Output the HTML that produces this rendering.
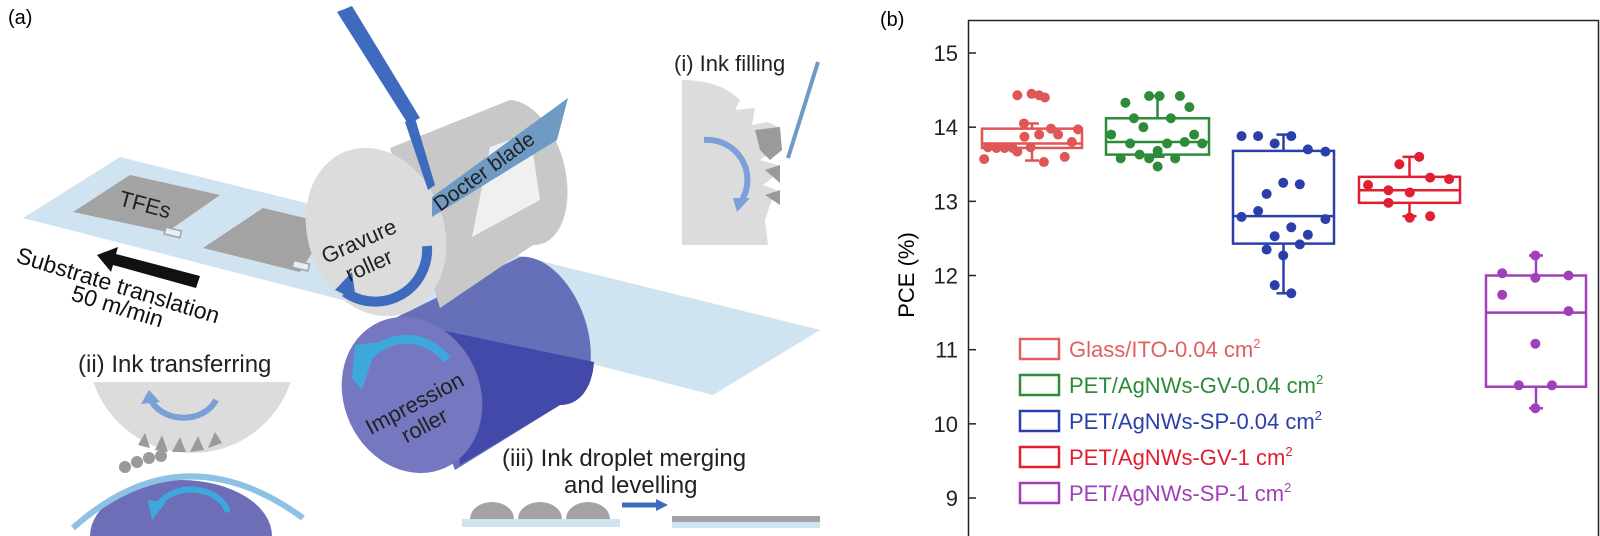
<!DOCTYPE html>
<html><head><meta charset="utf-8"><style>
html,body{margin:0;padding:0;background:#fff}
svg{display:block}
text{font-family:"Liberation Sans",sans-serif}
</style></head><body>
<svg id="s" width="1600" height="536" viewBox="0 0 1600 536" xmlns="http://www.w3.org/2000/svg">
<defs>
<clipPath id="c2"><rect x="60" y="382" width="260" height="154"/></clipPath>
</defs>
<text x="8" y="24" font-size="20">(a)</text>
<polygon points="120,157 820,330 713,395 23,218" fill="#cfe3f1"/>
<polygon points="73,212 130,175 220,195 167,232" fill="#a3a3a3"/>
<rect x="165" y="229" width="16" height="7" fill="#e8eef4" stroke="#a3a3a3" stroke-width="1.5" transform="rotate(13 173 232)"/>
<polygon points="203,248 263,208 330,224 300,272" fill="#a3a3a3"/>
<rect x="293" y="262" width="16" height="7" fill="#e8eef4" stroke="#a3a3a3" stroke-width="1.5" transform="rotate(13 300 265)"/>
<text x="145" y="212" font-size="22" text-anchor="middle" transform="rotate(15 145 205)" fill="#222">TFEs</text>
<polygon points="97,255 118,247 116,254 200,276 196,288 113,265 111,272" fill="#111"/>
<text x="15" y="262" font-size="23" transform="rotate(17 15 262)" fill="#111">Substrate translation</text>
<text x="70" y="300" font-size="23" transform="rotate(17 70 300)" fill="#111">50 m/min</text>
<path d="M395,318 L520,257 A45,75 -20 0 1 560,405 L455,470 Z" fill="#6570b8"/>
<path d="M440,330 L594,362 A45,75 -20 0 1 560,405 L460,465 Z" fill="#4249a8"/>
<ellipse cx="412" cy="395" rx="68" ry="80" transform="rotate(-25 412 395)" fill="#7577c0"/>
<path d="M447,360 A50,50 0 0 0 370,355" fill="none" stroke="#3ea8dc" stroke-width="9"/>
<polygon points="355,345 378,342 362,390 352,378" fill="#3ea8dc"/>
<path d="M390,148 L510,100 A42,72 -15 0 1 533,245 L440,308 Z" fill="#c8c8c8"/>
<polygon points="472,237 540,200 530,133 490,147" fill="#f0f0f0"/>
<ellipse cx="376" cy="232" rx="68" ry="86" transform="rotate(-20 376 232)" fill="#dcdcdc"/>
<polygon points="337,12 352,6 420,118 408,124" fill="#3f6bbf"/>
<polygon points="405,122 415,118 435,185 428,190" fill="#3f6bbf"/>
<polygon points="432,197 568,98 557,140 432,217" fill="#6f9ac4"/>
<text x="440" y="212" font-size="21" transform="rotate(-36 440 212)" fill="#222">Docter blade</text>
<path d="M427,246 A52,52 0 0 1 345,292" fill="none" stroke="#3f6bbf" stroke-width="10"/>
<polygon points="335,290 352,272 356,300" fill="#3f6bbf"/>
<text x="362" y="248" font-size="22" text-anchor="middle" transform="rotate(-24 362 248)" fill="#222">Gravure</text>
<text x="372" y="272" font-size="22" text-anchor="middle" transform="rotate(-24 372 272)" fill="#222">roller</text>
<text x="418" y="410" font-size="22" text-anchor="middle" transform="rotate(-28 418 410)" fill="#222">Impression</text>
<text x="428" y="432" font-size="22" text-anchor="middle" transform="rotate(-28 428 432)" fill="#222">roller</text>
<text x="674" y="71" font-size="22" fill="#222">(i) Ink filling</text>
<path d="M682,80 Q720,80 740,100 L735,110 L755,108 L752,125 L768,122 L780,128 L775,150 L760,160 L778,165 L772,178 L763,185 L776,190 L770,205 L765,220 L768,245 L682,245 Z" fill="#dcdcdc"/>
<polygon points="755,130 780,127 782,150 770,160 760,150" fill="#9a9a9a"/>
<polygon points="765,170 780,165 780,183" fill="#9a9a9a"/>
<polygon points="765,195 780,190 780,205" fill="#9a9a9a"/>
<line x1="818" y1="62" x2="788" y2="158" stroke="#6f9ac4" stroke-width="4"/>
<path d="M704,140 A40,40 0 0 1 742,200" fill="none" stroke="#7b9fd8" stroke-width="6"/>
<polygon points="733,198 750,198 737,212" fill="#7b9fd8"/>
<text x="78" y="372" font-size="24" fill="#222">(ii) Ink transferring</text>
<g clip-path="url(#c2)"><circle cx="192" cy="349" r="104" fill="#dcdcdc"/></g>
<g fill="#9a9a9a"><polygon points="138,445 145,433 150,448"/><polygon points="155,450 162,435 168,452"/><polygon points="172,452 180,437 186,452"/><polygon points="190,452 198,436 204,450"/><polygon points="208,448 215,432 222,443"/></g>
<g fill="#9a9a9a"><circle cx="125" cy="467" r="6"/><circle cx="137" cy="462" r="6"/><circle cx="149" cy="458" r="6"/><circle cx="161" cy="456" r="6"/></g>
<path d="M90,536 A91,56 0 0 1 272,536 Z" fill="#6e6db8"/>
<path d="M73,528 Q182,430 303,518" fill="none" stroke="#8ec1e6" stroke-width="6"/>
<path d="M228,512 A38,30 0 0 0 158,505" fill="none" stroke="#3ea8dc" stroke-width="6"/>
<polygon points="148,500 166,502 152,520" fill="#3ea8dc"/>
<path d="M216,400 A35,28 0 0 1 150,398" fill="none" stroke="#7b9fd8" stroke-width="6"/>
<polygon points="141,404 149,390 160,402" fill="#7b9fd8"/>
<text x="502" y="466" font-size="24" fill="#222">(iii) Ink droplet merging</text>
<text x="564" y="493" font-size="24" fill="#222">and levelling</text>
<rect x="462" y="519" width="158" height="8" fill="#cfe3f1"/>
<g fill="#a3a3a3"><path d="M470,519 A22,17 0 0 1 514,519Z"/><path d="M518,519 A22,17 0 0 1 562,519Z"/><path d="M566,519 A22,17 0 0 1 610,519Z"/></g>
<line x1="622" y1="505" x2="658" y2="505" stroke="#3f6bbf" stroke-width="5"/>
<polygon points="656,499 668,505 656,511" fill="#3f6bbf"/>
<rect x="672" y="516" width="148" height="6" fill="#a3a3a3"/>
<rect x="672" y="522" width="148" height="6" fill="#cfe3f1"/>
<text x="880" y="26" font-size="20">(b)</text>
<rect x="968.5" y="20.5" width="630" height="520" fill="none" stroke="#222" stroke-width="1.5"/>
<text x="0" y="0" font-size="22" text-anchor="middle" transform="translate(914,275) rotate(-90)">PCE (%)</text>
<g id="yt"></g>
<g id="bx"></g>
<g id="lg"></g>
</svg>
<script>
var NS="http://www.w3.org/2000/svg",s=document.getElementById('s');
function Y(v){return 53+(15-v)*74.17}
function X(z){return z/2.11+860}
function el(t,a,p,txt){var e=document.createElementNS(NS,t);for(var k in a)e.setAttribute(k,a[k]);if(txt!==undefined)e.textContent=txt;(p||s).appendChild(e);return e}
var yt=document.getElementById('yt');
for(var v=9;v<=15;v++){var y=Y(v);el('line',{x1:969,x2:976,y1:y,y2:y,stroke:'#222','stroke-width':1.5},yt);el('text',{x:958,y:y+8,'font-size':22,'text-anchor':'end',fill:'#222'},yt,String(v));}
var G=[
{c:'#e05555',x0:982,x1:1082,q1:13.72,q3:13.98,m:13.78,lo:13.55,hi:14.05,p:[[262,13.57],[332,14.43],[362,14.45],[378,14.43],[390,14.4],[346,14.05],[403,13.98],[460,13.97],[347,13.87],[378,13.9],[418,13.9],[447,13.8],[270,13.73],[288,13.72],[305,13.72],[322,13.72],[332,13.67],[360,13.73],[388,13.53],[432,13.6]]},
{c:'#2e8b3a',x0:1106,x1:1209,q1:13.63,q3:14.12,m:13.8,lo:13.6,hi:14.42,p:[[560,14.33],[610,14.42],[632,14.42],[675,14.42],[695,14.27],[578,14.12],[598,14.0],[656,14.12],[530,13.9],[570,13.78],[648,13.78],[685,13.8],[705,13.9],[722,13.78],[550,13.58],[590,13.63],[610,13.58],[628,13.68],[628,13.47],[665,13.58]]},
{c:'#2b3faa',x0:1233,x1:1334,q1:12.43,q3:13.68,m:12.8,lo:11.76,hi:13.9,p:[[805,13.88],[840,13.88],[875,13.78],[910,13.88],[945,13.7],[982,13.67],[858,13.1],[893,13.25],[928,13.23],[840,12.87],[805,12.79],[982,12.76],[910,12.65],[875,12.53],[945,12.55],[858,12.35],[928,12.42],[893,12.27],[875,11.87],[910,11.76]]},
{c:'#e02030',x0:1359,x1:1460,q1:12.98,q3:13.33,m:13.15,lo:12.8,hi:13.6,p:[[1138,13.5],[1180,13.6],[1072,13.22],[1203,13.32],[1243,13.3],[1115,13.15],[1160,13.12],[1115,12.98],[1160,12.78],[1203,12.8]]},
{c:'#a040b8',x0:1486,x1:1586,q1:10.5,q3:12.0,m:11.5,lo:10.21,hi:12.27,p:[[1355,12.03],[1425,12.27],[1425,11.97],[1495,12.0],[1355,11.74],[1495,11.52],[1425,11.08],[1390,10.52],[1460,10.52],[1425,10.21]]}];
var bx=document.getElementById('bx');
G.forEach(function(g){var cx=(g.x0+g.x1)/2,a={stroke:g.c,'stroke-width':2.5,fill:'none'};
el('rect',Object.assign({x:g.x0,y:Y(g.q3),width:g.x1-g.x0,height:Y(g.q1)-Y(g.q3)},a),bx);
el('line',Object.assign({x1:g.x0,x2:g.x1,y1:Y(g.m),y2:Y(g.m)},a),bx);
el('line',Object.assign({x1:cx,x2:cx,y1:Y(g.hi),y2:Y(g.q3)},a),bx);
el('line',Object.assign({x1:cx,x2:cx,y1:Y(g.q1),y2:Y(g.lo)},a),bx);
el('line',Object.assign({x1:cx-7,x2:cx+7,y1:Y(g.hi),y2:Y(g.hi)},a),bx);
el('line',Object.assign({x1:cx-7,x2:cx+7,y1:Y(g.lo),y2:Y(g.lo)},a),bx);
g.p.forEach(function(p){el('circle',{cx:X(p[0]),cy:Y(p[1]),r:5,fill:g.c},bx)});});
var L=[['Glass/ITO-0.04 cm','#e06060'],['PET/AgNWs-GV-0.04 cm','#2e8b3a'],['PET/AgNWs-SP-0.04 cm','#2b3faa'],['PET/AgNWs-GV-1 cm','#e02030'],['PET/AgNWs-SP-1 cm','#a040b8']];
var lg=document.getElementById('lg');
L.forEach(function(l,i){var y=349+i*36;el('rect',{x:1020,y:y-10,width:39,height:20,fill:'none',stroke:l[1],'stroke-width':2.5},lg);
var t=el('text',{x:1069,y:y+8,'font-size':22,fill:l[1]},lg,l[0]);el('tspan',{dy:-9,'font-size':13},t,'2');});
</script>
</body></html>
